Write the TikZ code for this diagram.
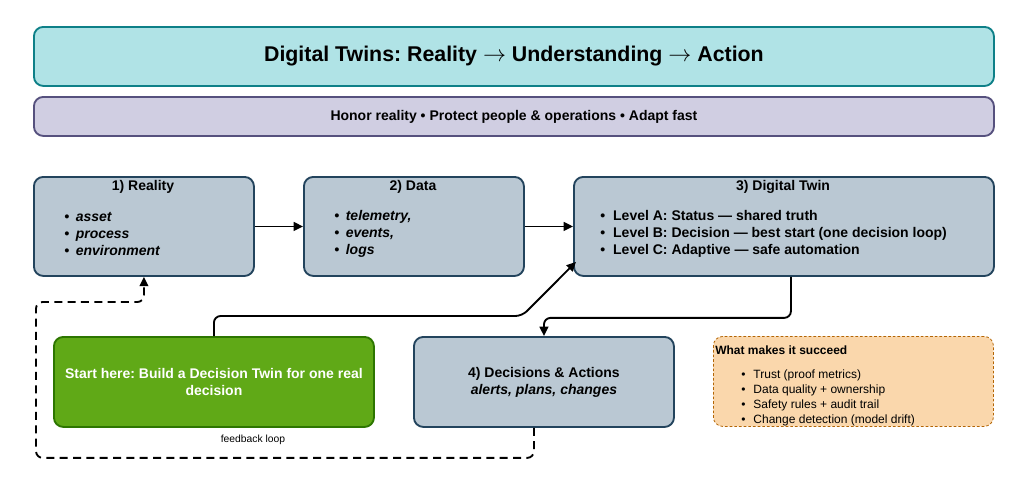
\documentclass[tikz,border=0pt]{standalone}
\usepackage{fontspec}
\setmainfont{Liberation Sans}
\frenchspacing
\usetikzlibrary{arrows.meta,calc}
\definecolor{tealF}{HTML}{B0E3E6}
\definecolor{tealD}{HTML}{0E8088}
\definecolor{purF}{HTML}{D0CEE2}
\definecolor{purD}{HTML}{56517E}
\definecolor{bluF}{HTML}{BAC8D3}
\definecolor{bluD}{HTML}{23445D}
\definecolor{grnF}{HTML}{60A917}
\definecolor{grnD}{HTML}{2D7600}
\definecolor{orF}{HTML}{FAD7AC}
\definecolor{orD}{HTML}{B46504}
\newcommand{\rarr}{$\rightarrow$}
\begin{document}
\begin{tikzpicture}[x=0.75pt,y=-0.75pt,
  basebox/.style={rounded corners=7pt, line width=1.4pt, inner sep=0pt, anchor=north west},
  stepbox/.style={basebox, draw=bluD, fill=bluF},
  conn/.style={line width=1.4pt, -{Triangle[length=7pt,width=6.5pt]}, rounded corners=5pt},
  ttl/.style={font=\bfseries\fontsize{10.5}{12}\selectfont},
  lst/.style={align=left, anchor=west, inner sep=0pt, font=\fontsize{10.5}{12.75}\selectfont\bfseries},
]
\useasboundingbox (0,0) rectangle (1019,490);
\fill[white] (0,0) rectangle (1019,490);

% header boxes
\node[basebox, draw=tealD, fill=tealF, minimum width=720pt, minimum height=44.25pt] (title) at (33,26) {};
\node[font=\bfseries\fontsize{16}{18}\selectfont] (titletxt) at (title.center) {Digital Twins: Reality \rarr{} Understanding \rarr{} Action};
\node[basebox, draw=purD, fill=purF, minimum width=720pt, minimum height=29.25pt] (sub) at (33,96) {};
\node[font=\bfseries\fontsize{10.5}{12}\selectfont] (subtxt) at (sub.center) {Honor reality • Protect people \& operations • Adapt fast};

% main boxes
\node[stepbox, minimum width=165pt, minimum height=74.25pt] (reality) at (33,176) {};
\node[stepbox, minimum width=165pt, minimum height=74.25pt] (data) at (303,176) {};
\node[stepbox, minimum width=315pt, minimum height=74.25pt] (dt) at (573,176) {};
\node[basebox, draw=grnD, fill=grnF, minimum width=240pt, minimum height=67.5pt] (start) at (53,336) {};
\node[stepbox, minimum width=195pt, minimum height=67.5pt] (dec) at (413,336) {};
\node[basebox, draw=orD, fill=orF, dashed, dash pattern=on 2pt off 1.5pt, line width=0.6pt, minimum width=210pt, minimum height=67.5pt] (succ) at (713,336) {};

% texts
\node[ttl] (rt) at (143,187) {1) Reality};
\node[lst, font=\fontsize{10.5}{12.75}\selectfont\bfseries\itshape] (rl) at (64,234) {•\hspace{5pt}asset\\•\hspace{5pt}process\\•\hspace{5pt}environment};
\node[ttl] (dtt1) at (413,187) {2) Data};
\node[lst, font=\fontsize{10.5}{12.75}\selectfont\bfseries\itshape] (dl) at (334,234) {•\hspace{5pt}telemetry,\\•\hspace{5pt}events,\\•\hspace{5pt}logs};
\node[ttl] (twt) at (783,187) {3) Digital Twin};
\node[lst] (twl) at (600,234) {•\hspace{6pt}Level A: Status — shared truth\\•\hspace{6pt}Level B: Decision — best start (one decision loop)\\•\hspace{6pt}Level C: Adaptive — safe automation};
\node[align=center, text=white, font=\bfseries\fontsize{10.5}{12.75}\selectfont] (stt) at (start.center) {Start here: Build a Decision Twin for one real\\decision};
\node[align=center, font=\bfseries\fontsize{10.5}{12.75}\selectfont] (dect) at (dec.center) {4) Decisions \& Actions\\\textit{alerts, plans, changes}};
\node[anchor=west, inner sep=0pt, font=\bfseries\fontsize{9}{10}\selectfont] (sh) at (715,350) {What makes it succeed};
\node[align=left, anchor=west, inner sep=0pt, font=\fontsize{9}{11.25}\selectfont] (sl) at (741,398) {•\hspace{6pt}Trust (proof metrics)\\•\hspace{6pt}Data quality + ownership\\•\hspace{6pt}Safety rules + audit trail\\•\hspace{6pt}Change detection (model drift)};

% connectors
\draw[conn] (reality.east) -- (data.west);
\draw[conn] (data.east) -- (dt.west);
\coordinate (b1) at (522,316);
\coordinate (dtin) at ($(dt.south west)+(3,-15)$);
\draw[conn] (start.north) |- (b1) -- (dtin);
\coordinate (dtout) at ($(dt.south)+(7,0)$);
\draw[conn] (dtout) -- ++(0,41) -| (dec.north);
\coordinate (fbstart) at ($(dec.south)+(-10,0)$);
\coordinate (fbL) at (36,302);
\draw[conn, dashed, dash pattern=on 6pt off 4pt] (fbstart) -- ++(0,30) -| (fbL) -| (reality.south);
\node[font=\fontsize{7.75}{9}\selectfont] (fbl) at (253,440) {feedback loop};
\end{tikzpicture}
\end{document}
